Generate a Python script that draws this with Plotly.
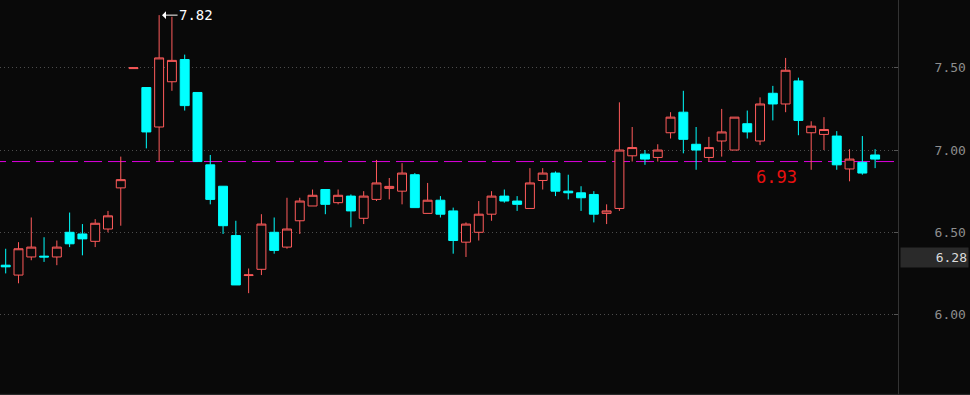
import plotly.graph_objects as go

# ---- data ----
idx = list(range(69))
opens = [6.30, 6.24, 6.35, 6.355, 6.35, 6.50, 6.49, 6.445, 6.52, 6.77,
         7.495, 7.38, 7.14, 7.415, 7.55, 7.35, 6.91, 6.78, 6.48, 6.237,
         6.275, 6.50, 6.41, 6.57, 6.66, 6.76, 6.68, 6.72, 6.585, 6.70,
         6.767, 6.75, 6.85, 6.615, 6.695, 6.63, 6.44, 6.50, 6.61, 6.72,
         6.69, 6.645, 6.815, 6.86, 6.75, 6.74, 6.73, 6.615, 6.645, 6.965,
         6.975, 6.955, 7.105, 7.23, 7.035, 6.955, 7.055, 7.00, 7.16, 7.055,
         7.345, 7.28, 7.42, 7.105, 7.095, 7.085, 6.885, 6.925, 6.97]
highs = [6.40, 6.44, 6.59, 6.47, 6.45, 6.62, 6.55, 6.58, 6.63, 6.96,
         7.50, 7.38, 7.82, 7.81, 7.58, 7.35, 6.97, 6.78, 6.57, 6.28,
         6.61, 6.59, 6.71, 6.71, 6.76, 6.76, 6.76, 6.73, 6.75, 6.94,
         6.83, 6.92, 6.86, 6.80, 6.72, 6.65, 6.56, 6.69, 6.75, 6.76,
         6.72, 6.89, 6.89, 6.87, 6.85, 6.78, 6.75, 6.67, 7.29, 7.14,
         7.00, 7.035, 7.23, 7.36, 7.14, 7.08, 7.25, 7.20, 7.24, 7.32,
         7.39, 7.56, 7.44, 7.175, 7.20, 7.115, 7.005, 7.085, 7.005]
lows = [6.25, 6.19, 6.33, 6.32, 6.30, 6.41, 6.36, 6.41, 6.50, 6.54,
        7.495, 7.01, 6.93, 7.36, 7.24, 6.93, 6.67, 6.49, 6.18, 6.13,
        6.24, 6.37, 6.40, 6.49, 6.66, 6.61, 6.67, 6.53, 6.55, 6.69,
        6.70, 6.67, 6.65, 6.615, 6.59, 6.37, 6.35, 6.45, 6.57, 6.68,
        6.63, 6.645, 6.76, 6.72, 6.70, 6.63, 6.56, 6.55, 6.63, 6.93,
        6.91, 6.93, 7.07, 6.98, 6.88, 6.93, 6.96, 7.00, 7.07, 7.03,
        7.18, 7.23, 7.09, 6.88, 7.00, 6.88, 6.81, 6.85, 6.89]
closes = [6.29, 6.40, 6.41, 6.35, 6.41, 6.43, 6.46, 6.555, 6.60, 6.82,
          7.50, 7.11, 7.56, 7.545, 7.27, 6.93, 6.70, 6.54, 6.18, 6.241,
          6.55, 6.39, 6.52, 6.69, 6.725, 6.67, 6.725, 6.63, 6.72, 6.80,
          6.779, 6.86, 6.65, 6.695, 6.61, 6.45, 6.55, 6.61, 6.72, 6.69,
          6.67, 6.80, 6.86, 6.75, 6.74, 6.71, 6.61, 6.63, 7.00, 7.015,
          6.945, 7.00, 7.20, 7.065, 7.00, 7.015, 7.11, 7.20, 7.11, 7.28,
          7.28, 7.485, 7.18, 7.145, 7.125, 6.91, 6.945, 6.86, 6.945]

ref_level = 6.93
ytick_vals = [6.00, 6.50, 7.00, 7.50]
ytick_text = ["6.00", "6.50", "7.00", "7.50"]
price_label = "6.28"

BG = "#090909"
UP = "#ff5b5b"
DOWN = "#00ffff"

fig = go.Figure()
fig.add_trace(go.Candlestick(
    x=idx, open=opens, high=highs, low=lows, close=closes,
    increasing=dict(line=dict(color=UP, width=1), fillcolor=BG),
    decreasing=dict(line=dict(color=DOWN, width=1), fillcolor=DOWN),
    whiskerwidth=0, showlegend=False, hoverinfo="skip",
))

# reference dashed line
fig.add_shape(type="line", xref="paper", yref="y", x0=-12/898, x1=1,
              y0=ref_level, y1=ref_level, layer="below",
              line=dict(color="#dd00dd", width=1, dash="18px,6px"))
# bottom border
fig.add_shape(type="line", xref="paper", yref="paper", x0=0, x1=970/898,
              y0=0.6/395, y1=0.6/395, line=dict(color="#2e2e2e", width=1))

max_h = max(highs)
max_i = highs.index(max_h)
fig.add_annotation(x=max_i + 0.23, y=max_h, xref="x", yref="y",
                   text=f"{max_h:.2f}", showarrow=True, arrowhead=1,
                   arrowsize=1.3, arrowwidth=1, arrowcolor="#ffffff",
                   ax=34, ay=0, font=dict(family="DejaVu Sans Mono", size=14, color="#ffffff"))
fig.add_annotation(x=60.25, y=ref_level, xref="x", yref="y", yshift=-15,
                   text=f"{ref_level:.2f}", showarrow=False,
                   font=dict(family="DejaVu Sans Mono", size=17, color="#e8100f"))
fig.add_annotation(x=1, xref="paper", xanchor="left", xshift=2,
                   y=1 - 257.5/395, yref="paper", yanchor="middle",
                   text=price_label, showarrow=False, width=65, height=17,
                   align="right", bgcolor="#2a2a2a",
                   font=dict(family="DejaVu Sans Mono", size=13, color="#dcdcdc"))

fig.update_layout(
    width=970, height=395,
    margin=dict(l=0, r=72, t=0, b=0),
    paper_bgcolor=BG, plot_bgcolor=BG,
    boxgap=0.3, boxgroupgap=0,
    xaxis=dict(range=[-0.446, 69.79], visible=False, rangeslider=dict(visible=False),
               showgrid=False, zeroline=False, fixedrange=True),
    yaxis=dict(range=[5.511, 7.912], side="right", tickvals=ytick_vals, ticktext=ytick_text,
               showline=True, linecolor="#333333", linewidth=1,
               ticks="inside", ticklen=4, tickcolor="#555555",
               tickfont=dict(family="DejaVu Sans Mono", size=13, color="#8e8e8e"),
               ticklabelstandoff=33,
               showgrid=True, gridcolor="#4c4c4c", griddash="1px,3px", gridwidth=1,
               zeroline=False, fixedrange=True),
)

fig.write_html("out.html")
